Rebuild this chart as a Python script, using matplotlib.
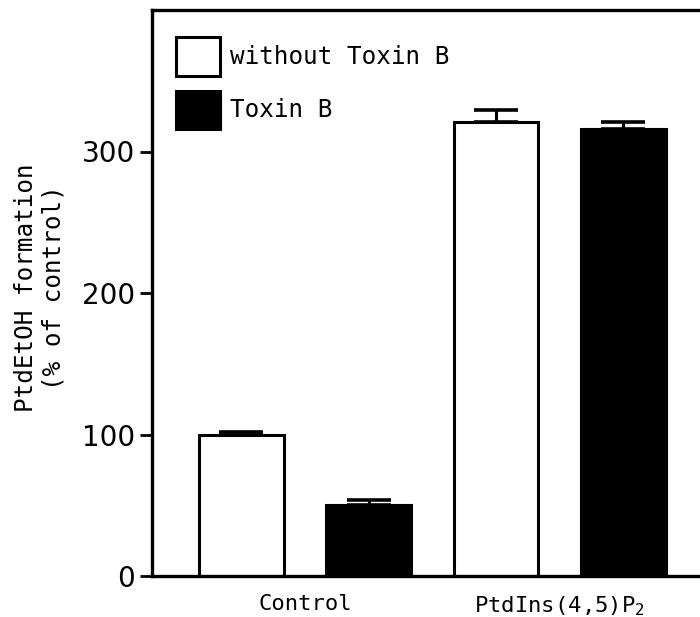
import numpy as np
import matplotlib.pyplot as plt

# PtdEtOH formation, % of control
groups = ["Control", "PtdIns(4,5)P$_2$"]
series = ["without Toxin B", "Toxin B"]
without_toxin = [100, 321]
without_toxin_err = [2, 8]
with_toxin = [50, 316]
with_toxin_err = [3.5, 5]

plt.rcParams["font.family"] = ["DejaVu Sans"]
plt.rcParams["mathtext.default"] = "regular"
mono = "DejaVu Sans Mono"

fig = plt.figure(figsize=(7.0, 6.17), dpi=100)
W, H = 700, 617
x0, x1 = 152, 738
y0, y1 = 576, 10
ax = fig.add_axes([x0 / W, (H - y0) / H, (x1 - x0) / W, (y0 - y1) / H])

x = np.arange(len(groups))
bw = 0.333
off = 0.25
err_kw = dict(ecolor="black", elinewidth=2.2, capsize=16, capthick=2.6)
ax.bar(x - off, without_toxin, bw, color="white", edgecolor="black",
       linewidth=2.2, yerr=[np.zeros(2), without_toxin_err],
       error_kw=err_kw, label=series[0], zorder=2)
ax.bar(x + off, with_toxin, bw, color="black", edgecolor="black",
       linewidth=2.2, yerr=[np.zeros(2), with_toxin_err],
       error_kw=err_kw, label=series[1], zorder=2)

ax.set_xlim(-0.6, 1.7)
ax.set_ylim(0, 400)
ax.set_yticks([0, 100, 200, 300])
ax.set_xticks(x)
ax.set_xticklabels(groups, fontsize=16, family=mono)
ax.tick_params(axis="y", direction="out", length=8.6, width=2, labelsize=20, pad=3.5)
ax.tick_params(axis="x", length=0, pad=13)
for s in ax.spines.values():
    s.set_linewidth(2.4)

fig.text(40 / W, 1 - 288 / H, "PtdEtOH formation\n(% of control)",
         rotation=90, ha="center", va="center", multialignment="center",
         family=mono, fontsize=17.5, linespacing=1.2)

ax.legend(loc="upper left", bbox_to_anchor=(0.041, 0.952), frameon=False,
          prop={"family": mono, "size": 17.5}, handlelength=1.82,
          handleheight=2.05, handletextpad=0.42, labelspacing=0.62,
          borderaxespad=0, borderpad=0)

fig.savefig("out.png", dpi=100, facecolor="white")
